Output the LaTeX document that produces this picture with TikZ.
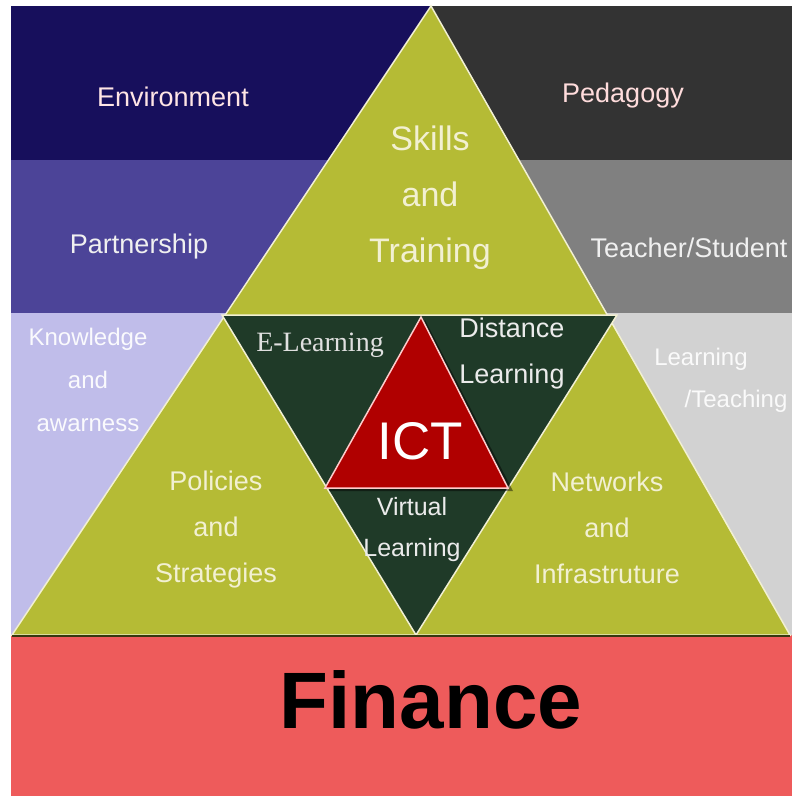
\documentclass[tikz,border=0pt]{standalone}
\usepackage{fontspec}
\setmainfont{Liberation Serif}
\setsansfont{Liberation Sans}
\usetikzlibrary{positioning}

\definecolor{envblue}{HTML}{170F5C}
\definecolor{pedgrey}{HTML}{333333}
\definecolor{partblue}{HTML}{4C4498}
\definecolor{teachgrey}{HTML}{808080}
\definecolor{knowlav}{HTML}{C0BDEA}
\definecolor{learngrey}{HTML}{D2D2D2}
\definecolor{finred}{HTML}{EE5B5B}
\definecolor{olive}{HTML}{B5BB35}
\definecolor{darkgreen}{HTML}{1F3A28}
\definecolor{ictred}{HTML}{B00000}
\definecolor{cream}{HTML}{F2F0D2}

\tikzset{
  lbl/.style={font=\sffamily, inner sep=0pt, align=center},
  edge/.style={draw=cream, line width=1.5pt, line join=miter}
}

\begin{document}
\begin{tikzpicture}[x=1pt, y=-1pt]
\useasboundingbox (0,0) rectangle (792,796);
\fill[white] (0,0) rectangle (792,796);

% Background bands
\fill[envblue] (11,6) rectangle (431,160);
\fill[pedgrey] (431,6) rectangle (792,160);
\fill[partblue] (11,160) rectangle (431,313);
\fill[teachgrey] (431,160) rectangle (792,313);
\fill[knowlav] (11,313) rectangle (431,635);
\fill[learngrey] (431,313) rectangle (792,635);
\fill[finred] (11,635) rectangle (792,796);

% Pyramid
\filldraw[fill=olive, edge] (431,6) -- (12,635) -- (790,635) -- cycle;
\filldraw[fill=darkgreen, edge] (222,315) -- (617,315) -- (416,635) -- cycle;
\draw[line width=2.5pt, black!70!olive] (12,636) -- (790,636);

% ICT triangle
\fill[black, opacity=0.45] (425,320) -- (329,491) -- (513,491) -- cycle;
\filldraw[fill=ictred, draw=red!20, line width=1.5pt] (421,317) -- (325,488) -- (508,488) -- cycle;

% Outer labels
\node[lbl, text=pink!40!white, font=\sffamily\fontsize{27}{27}\selectfont] (env) at (173,97) {Environment};
\node[lbl, text=pink!55!white, font=\sffamily\fontsize{27}{27}\selectfont] (ped) at (623,96) {Pedagogy};
\node[lbl, text=white!94!black, font=\sffamily\fontsize{27}{27}\selectfont] (part) at (139,247) {Partnership};
\node[lbl, text=white!94!black, font=\sffamily\fontsize{27}{27}\selectfont] (teach) at (689,248) {Teacher/Student};
\node[lbl, text=white!92!knowlav, font=\sffamily\fontsize{24}{43}\selectfont] (know) at (88,380) {Knowledge\\and\\awarness};
\node[lbl, text=white!90!learngrey, font=\sffamily\fontsize{24}{24}\selectfont] (learn) at (701,359) {Learning};
\node[lbl, text=white!90!learngrey, font=\sffamily\fontsize{24}{24}\selectfont] (teaching) at (736,401) {/Teaching};

% Pyramid labels
\node[lbl, text=cream, font=\sffamily\fontsize{34}{56}\selectfont] (skills) at (430,198) {Skills\\and\\Training};
\node[lbl, text=cream, font=\sffamily\fontsize{27}{46}\selectfont] (pol) at (216,530) {Policies\\and\\Strategies};
\node[lbl, text=cream, font=\sffamily\fontsize{27}{46}\selectfont] (net) at (607,528) {Networks\\and\\Infrastruture};

% Inner labels
\node[lbl, text=white!88!black, font=\rmfamily\fontsize{28}{28}\selectfont] (elearn) at (320,345) {E-Learning};
\node[lbl, text=white!92!black, font=\sffamily\fontsize{27}{46}\selectfont] (dist) at (512,354) {Distance\\Learning};
\node[lbl, text=white!92!black, font=\sffamily\fontsize{25}{41}\selectfont] (virt) at (412,530) {Virtual\\Learning};
\node[lbl, text=white, font=\sffamily\fontsize{53}{53}\selectfont] (ict) at (420,441) {ICT};

% Base
\node[lbl, text=black, font=\sffamily\bfseries\fontsize{80}{80}\selectfont] (fin) at (431,700) {Finance};
\end{tikzpicture}
\end{document}
